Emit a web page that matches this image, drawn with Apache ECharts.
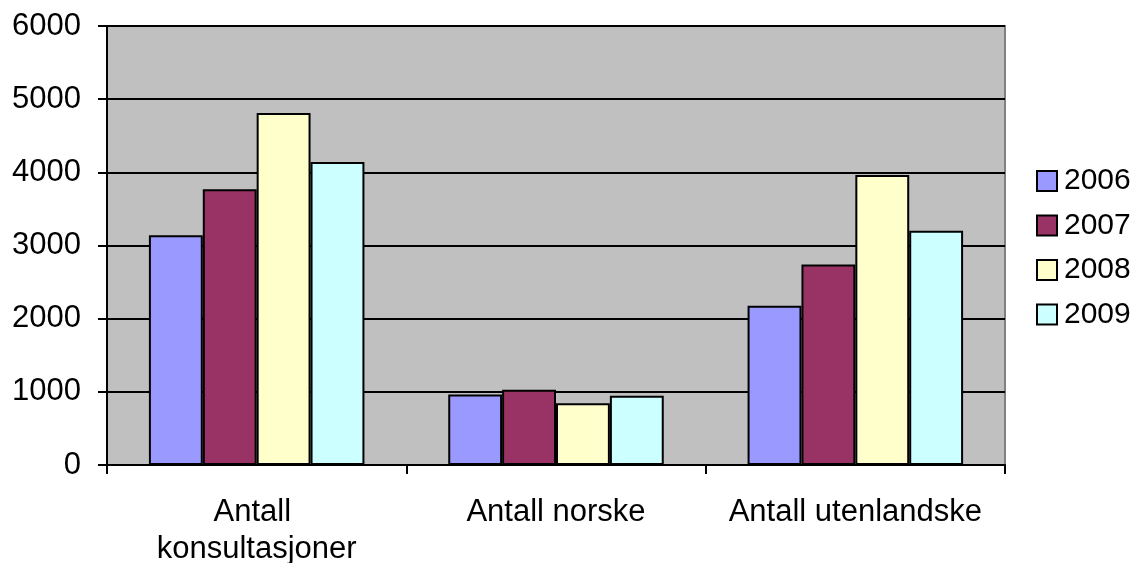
<!DOCTYPE html>
<html>
<head>
<meta charset="utf-8">
<script src="https://cdn.jsdelivr.net/npm/echarts@6/dist/echarts.min.js"></script>
<style>
  html, body { margin: 0; padding: 0; background: #ffffff; }
  #chart { width: 1137px; height: 563px; }
</style>
</head>
<body>
<div id="chart"></div>
<script>
// kategorier på x-aksen
const categories = ["Antall konsultasjoner", "Antall norske", "Antall utenlandske"];
// verdier per år
const years = ["2006", "2007", "2008", "2009"];
const data2006 = [3140, 965, 2175];
const data2007 = [3770, 1030, 2740];
const data2008 = [4810, 845, 3965];
const data2009 = [4140, 945, 3200];
const yearColors = ["#9999FF", "#993366", "#FFFFCC", "#CCFFFF"];

const fontName = "Liberation Sans, Arial, sans-serif";

const makeSeries = (name, values, color) => ({
  name: name,
  type: "bar",
  barGap: "0%",
  barCategoryGap: "28%",
  itemStyle: {
    color: color,
    borderColor: "#000000",
    borderWidth: 2,
  },
  emphasis: { disabled: true },
  data: values,
});

const option = {
  animation: false,
  textStyle: { fontFamily: fontName, color: "#000000" },
  grid: {
    left: 107,
    right: 132,
    top: 26,
    bottom: 98,
    containLabel: false,
    outerBoundsMode: "none",
    show: true,
    backgroundColor: "#C0C0C0",
    borderColor: "#808080",
    borderWidth: 2,
  },
  legend: {
    orient: "vertical",
    left: 1036,
    top: 166,
    padding: 0,
    icon: "rect",
    itemWidth: 20,
    itemHeight: 20,
    itemGap: 14.5,
    itemStyle: { borderColor: "#000000", borderWidth: 2 },
    textStyle: { fontSize: 30, color: "#000000", fontFamily: fontName, padding: [0, 0, 0, 2] },
    data: years,
  },
  xAxis: {
    type: "category",
    data: categories,
    axisLine: { lineStyle: { color: "#000000", width: 2 } },
    axisTick: { show: true, length: 9, lineStyle: { color: "#000000", width: 2 } },
    axisLabel: {
      fontSize: 31,
      color: "#000000",
      margin: 29,
      width: 275,
      overflow: "break",
      lineHeight: 37,
      interval: 0,
    },
  },
  yAxis: {
    type: "value",
    min: 0,
    max: 6000,
    interval: 1000,
    axisLine: { show: true, lineStyle: { color: "#000000", width: 2 } },
    axisTick: { show: true, length: 9, lineStyle: { color: "#000000", width: 2 } },
    splitLine: { lineStyle: { color: "#000000", width: 2 } },
    axisLabel: {
      fontSize: 31,
      color: "#000000",
      margin: 26,
      formatter: (v) => String(v),
    },
  },
  series: [
    makeSeries(years[0], data2006, yearColors[0]),
    makeSeries(years[1], data2007, yearColors[1]),
    makeSeries(years[2], data2008, yearColors[2]),
    makeSeries(years[3], data2009, yearColors[3]),
  ],
};

const myChart = echarts.init(document.getElementById("chart"));
myChart.setOption(option);
</script>
</body>
</html>
